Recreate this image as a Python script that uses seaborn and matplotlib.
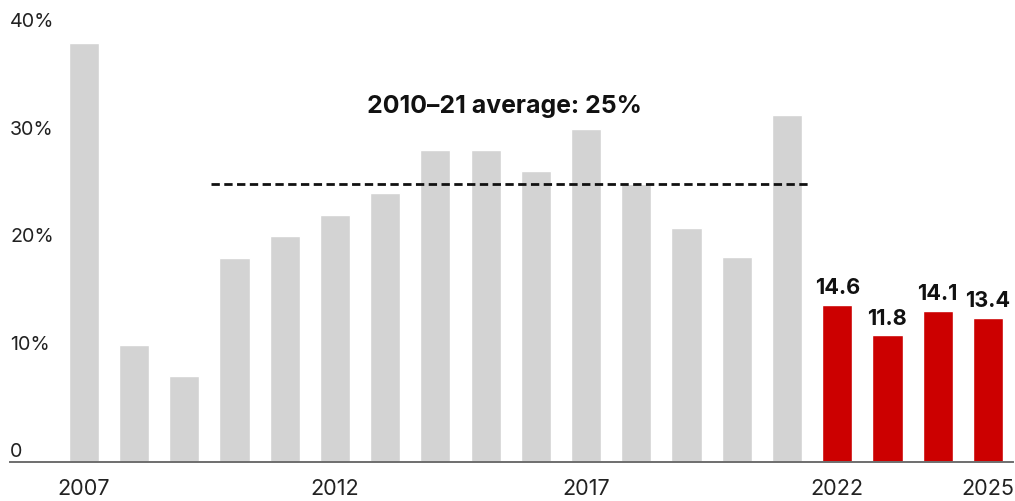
import matplotlib
matplotlib.use("Agg")
import matplotlib.pyplot as plt
import matplotlib.transforms as mtransforms
import seaborn as sns
import pandas as pd

years = [str(y) for y in range(2007, 2026)]
values = [39.0, 10.9, 8.0, 19.0, 21.0, 23.0, 25.0, 29.0, 29.0, 27.1, 31.0, 25.9,
          21.8, 19.1, 32.3, 14.6, 11.8, 14.1, 13.4]
labeled_years = ["2022", "2023", "2024", "2025"]
x_tick_years = ["2007", "2012", "2017", "2022", "2025"]
y_ticks = [0, 10, 20, 30, 40]
y_tick_labels = ["0", "10%", "20%", "30%", "40%"]
avg_start, avg_end = "2010", "2021"
avg_line_value = 25.9
avg_text = "2010–21 average: 25%"

GREY = "#d3d3d3"
RED = "#cc0000"

sns.set_theme(style="white")
plt.rcParams["font.family"] = ["Inter", "DejaVu Sans"]

df = pd.DataFrame({"year": years, "value": values})
colors = [RED if y in labeled_years else GREY for y in years]

fig = plt.figure(figsize=(10.15, 5.02), dpi=100)
W, H = 1015, 502
ax = fig.add_axes([10 / W, 38.7 / H, 1003 / W, 430.4 / H])

sns.barplot(data=df, x="year", y="value", hue="year", palette=colors,
            legend=False, width=0.6, saturation=1, ax=ax, order=years)

ax.set_xlim(-1.47, 18.5)
ax.set_ylim(0, 40)
for s in ["top", "right", "left"]:
    ax.spines[s].set_visible(False)
ax.spines["bottom"].set_color("#6e6e6e")
ax.spines["bottom"].set_linewidth(1.4)
ax.set_xlabel("")
ax.set_ylabel("")
ax.set_yticks([])

tick_pos = [years.index(y) for y in x_tick_years]
ax.set_xticks(tick_pos)
ax.set_xticklabels(x_tick_years, fontsize=15.6, color="#222222")
ax.tick_params(axis="x", length=0, pad=11)

# y labels sitting above their value lines
trans = mtransforms.blended_transform_factory(ax.transAxes, ax.transData)
trans_off = mtransforms.offset_copy(trans, fig=fig, x=0, y=4.2, units="points")
for v, lab in zip(y_ticks, y_tick_labels):
    ax.text(0.0, v, lab, transform=trans_off, ha="left", va="baseline",
            fontsize=14.2, color="#222222")

# value labels on red bars
for y in labeled_years:
    i = years.index(y)
    v = values[i]
    ax.annotate(f"{v}", (i, v), xytext=(0, 8.5), textcoords="offset points",
                ha="center", va="baseline", fontsize=15.6, fontweight="bold",
                color="#111111")

# average line
i0, i1 = years.index(avg_start), years.index(avg_end)
ax.plot([i0 - 0.47, i1 + 0.47], [avg_line_value, avg_line_value],
        color="#111111", linestyle=(0, (3, 1.6)), linewidth=2)
ax.text((i0 + i1) / 2 - 0.13, 32.6, avg_text, ha="center", va="baseline",
        fontsize=17.9, fontweight="bold", color="#111111")

fig.savefig("out.png", dpi=100)
